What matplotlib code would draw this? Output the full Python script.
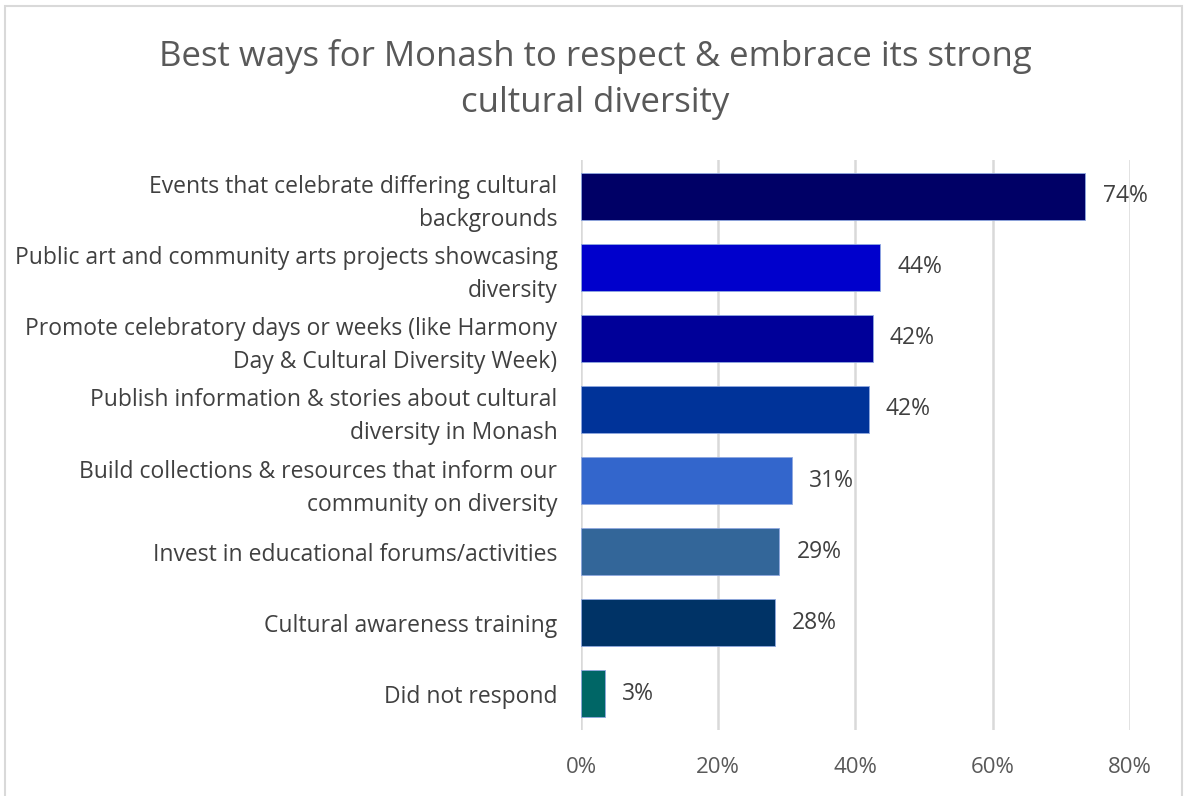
import matplotlib
matplotlib.use('Agg')
import matplotlib.pyplot as plt
from matplotlib.patches import Rectangle

categories = [
    'Events that celebrate differing cultural\nbackgrounds',
    'Public art and community arts projects showcasing\ndiversity',
    'Promote celebratory days or weeks (like Harmony\nDay & Cultural Diversity Week)',
    'Publish information & stories about cultural\ndiversity in Monash',
    'Build collections & resources that inform our\ncommunity on diversity',
    'Invest in educational forums/activities',
    'Cultural awareness training',
    'Did not respond',
]
values = [0.735, 0.436, 0.425, 0.419, 0.307, 0.289, 0.282, 0.035]
labels = ['74%', '44%', '42%', '42%', '31%', '29%', '28%', '3%']
colors = ['#000066', '#0000CC', '#000099', '#003399', '#3366CC', '#336699', '#003366', '#006666']
ticks = [0, 0.2, 0.4, 0.6, 0.8]

plt.rcParams['font.family'] = ['Open Sans', 'DejaVu Sans']

fig = plt.figure(figsize=(11.84, 7.96), dpi=100)
ax = fig.add_axes([0.4907, 0.0835, 0.4637, 0.7149])

pos = list(range(len(categories)))
ax.barh(pos, values, height=0.66, color=colors, edgecolor='#8fa8e0', linewidth=0.6, zorder=3)
for p, v, lab in zip(pos, values, labels):
    ax.text(v + 0.025, p, lab, va='center', ha='left', fontsize=16.5, color='#404040')

ax.set_ylim(len(categories) - 0.5, -0.5)
ax.set_xlim(0, 0.8)
ax.set_yticks(pos)
ax.set_yticklabels(categories, fontsize=16.5, color='#404040', linespacing=1.5)
ax.set_xticks(ticks)
ax.set_xticklabels(['%d%%' % round(t * 100) for t in ticks], fontsize=16, color='#595959')
ax.tick_params(axis='both', length=0)
ax.tick_params(axis='y', pad=17)
ax.tick_params(axis='x', pad=20)
ax.grid(axis='x', color='#D9D9D9', linewidth=1.8, zorder=0)
for s in ax.spines.values():
    s.set_visible(False)

fig.text(0.503, 0.90, 'Best ways for Monash to respect & embrace its strong\ncultural diversity',
         ha='center', va='center', fontsize=25, color='#595959', linespacing=1.45)

fig.patches.append(Rectangle((0.004, -0.01), 0.994, 1.003, transform=fig.transFigure,
                             fill=False, edgecolor='#D9D9D9', linewidth=1.5))

fig.savefig('out.png', dpi=100)
